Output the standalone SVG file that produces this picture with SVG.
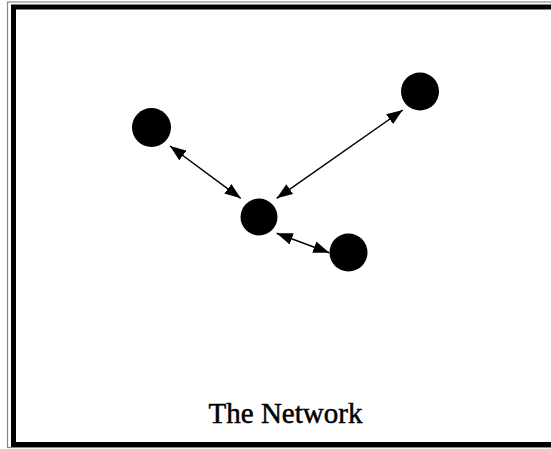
<svg xmlns="http://www.w3.org/2000/svg" width="551" height="449" viewBox="0 0 551 449">
  <style>
    .node { fill: #000; }
    .edge { stroke: #000; stroke-width: 1.5; fill: none; marker-start: url(#ah); marker-end: url(#ah); }
    .title { font-family: "Liberation Serif", "Times New Roman", serif; font-size: 29px; fill: #000; stroke: #000; stroke-width: 0.5; }
  </style>
  <defs>
    <marker id="ah" viewBox="0 0 16 12" refX="16" refY="6" markerWidth="16" markerHeight="12" markerUnits="userSpaceOnUse" orient="auto-start-reverse">
      <path d="M0,0 L16,6 L0,12 Z" fill="#000"/>
    </marker>
  </defs>
  <rect x="0" y="0" width="551" height="449" fill="#fff"/>
  <g id="frame">
    <rect x="7.5" y="2" width="560" height="445.5" fill="none" stroke="#888" stroke-width="1.2"/>
    <rect x="13.5" y="7" width="560" height="437.5" fill="none" stroke="#000" stroke-width="5"/>
  </g>
  <g id="connectors">
    <line class="edge" x1="170" y1="146" x2="240.7" y2="198.3"/>
    <line class="edge" x1="402.7" y1="110" x2="276.7" y2="198.3"/>
    <line class="edge" x1="276.7" y1="233.3" x2="329.3" y2="252.7"/>
  </g>
  <g id="node-a"><circle class="node" cx="151.5" cy="127.5" r="19.5"/></g>
  <g id="node-b"><circle class="node" cx="259" cy="217" r="18.5"/></g>
  <g id="node-c"><circle class="node" cx="420" cy="91.5" r="19"/></g>
  <g id="node-d"><circle class="node" cx="348.5" cy="252.5" r="19"/></g>
  <g id="label"><text class="title" x="285.5" y="422.5" text-anchor="middle">The Network</text></g>
</svg>
